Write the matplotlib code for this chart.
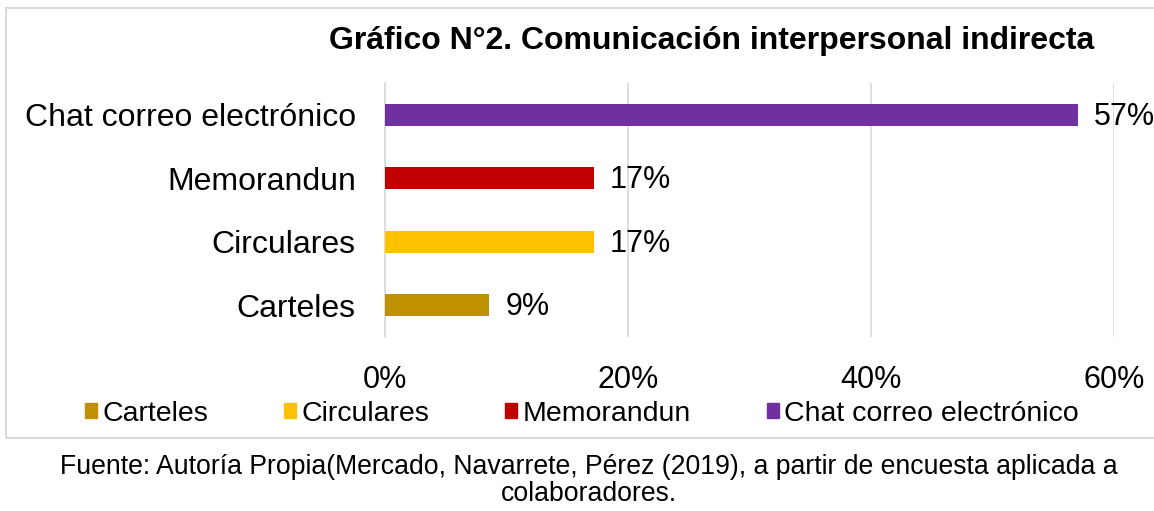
import matplotlib.pyplot as plt
from matplotlib.patches import Patch, Rectangle

plt.rcParams['font.family'] = ['Liberation Sans', 'DejaVu Sans']

categorias = ["Carteles", "Circulares", "Memorandun", "Chat correo electrónico"]
valores = [8.6, 17.2, 17.2, 57.0]
colores = ["#BF9000", "#FFC000", "#C00000", "#7030A0"]
ticks = [0, 20, 40, 60]

W, H = 1154, 511
fig = plt.figure(figsize=(W / 100, H / 100), dpi=100)

# marco del grafico
fig.patches.append(Rectangle((6 / W, 1 - 438 / H), 1.2, 430 / H, transform=fig.transFigure,
                             fill=False, edgecolor='#D9D9D9', linewidth=1.5, zorder=0))

ax = fig.add_axes([385 / W, 1 - 337 / H, (1114 - 385) / W, (337 - 83) / H])
y = range(len(categorias))
ax.barh(y, valores, height=0.35, color=colores, zorder=3)
for i, v in enumerate(valores):
    ax.text(v + 1.3, i - 0.03, "{:.0f}%".format(v), va='center', ha='left', fontsize=22, clip_on=False)

ax.set_xlim(0, 60)
ax.set_ylim(-0.5, len(categorias) - 0.5)
ax.set_xticks(ticks)
ax.set_xticklabels(["{}%".format(t) for t in ticks], fontsize=22)
ax.set_yticks(list(y))
ax.set_yticklabels(categorias, fontsize=23)
ax.tick_params(axis='y', length=0, pad=21)
ax.tick_params(axis='x', length=0, pad=20)
ax.grid(axis='x', color='#D9D9D9', linewidth=1.2, zorder=0)
for s in ['top', 'right', 'bottom']:
    ax.spines[s].set_visible(False)
ax.spines['left'].set_color('#D9D9D9')
ax.spines['left'].set_linewidth(1.2)

fig.text(712 / W, 1 - 41 / H, "Gráfico N°2. Comunicación interpersonal indirecta",
         ha='center', va='center', fontsize=23, fontweight='bold')

handles = [Patch(color=c) for c in colores]
fig.legend(handles, categorias, loc='center', bbox_to_anchor=(582 / W, 1 - 414 / H), ncol=4,
           frameon=False, fontsize=20.5, handlelength=0.42, handleheight=0.42, handletextpad=0.18,
           columnspacing=2.67, borderpad=0)

fig.text(589 / W, 1 - 467 / H, "Fuente: Autoría Propia(Mercado, Navarrete, Pérez (2019), a partir de encuesta aplicada a",
         ha='center', va='center', fontsize=19.2)
fig.text(589 / W, 1 - 494 / H, "colaboradores.", ha='center', va='center', fontsize=19.2)

fig.savefig("out.png", dpi=100)
